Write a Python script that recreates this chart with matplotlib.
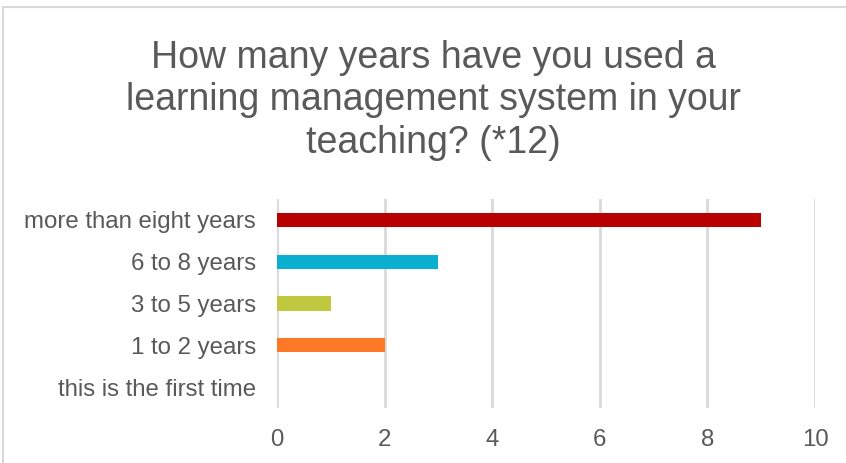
import matplotlib.pyplot as plt
from matplotlib.patches import Rectangle

categories = ["this is the first time", "1 to 2 years", "3 to 5 years", "6 to 8 years", "more than eight years"]
values = [0, 2, 1, 3, 9]
colors = ["#4472c4", "#ff7828", "#c0c840", "#0bb0d0", "#b80000"]
ticks = [0, 2, 4, 6, 8, 10]

plt.rcParams['font.family'] = ['Liberation Sans', 'DejaVu Sans']

fig = plt.figure(figsize=(8.46, 4.63), dpi=100)
ax = fig.add_axes([0.3274, 0.1188, 0.636, 0.4514])

ax.barh(range(len(categories)), values, height=0.34, color=colors, zorder=3)
ax.set_xlim(0, 10)
ax.set_ylim(-0.5, 4.5)
ax.set_xticks(ticks)
ax.set_yticks(range(len(categories)))
ax.set_yticklabels(categories)
ax.xaxis.grid(True, color="#d9d9d9", linewidth=2, zorder=0)
ax.tick_params(axis='both', length=0, labelsize=17.3, colors="#595959")
ax.tick_params(axis='x', pad=15)
ax.tick_params(axis='y', pad=15)
for s in ax.spines.values():
    s.set_visible(False)

fig.text(0.5124, 0.783, "How many years have you used a\nlearning management system in your\nteaching? (*12)",
         ha='center', va='center', fontsize=27, color="#595959", linespacing=1.22)

fig.patches.append(Rectangle((3 / 846, -0.01), 1.0, 1 - 7 / 463 + 0.01, transform=fig.transFigure,
                             fill=False, edgecolor="#d9d9d9", linewidth=1.5))

fig.savefig("out.png", dpi=100)
